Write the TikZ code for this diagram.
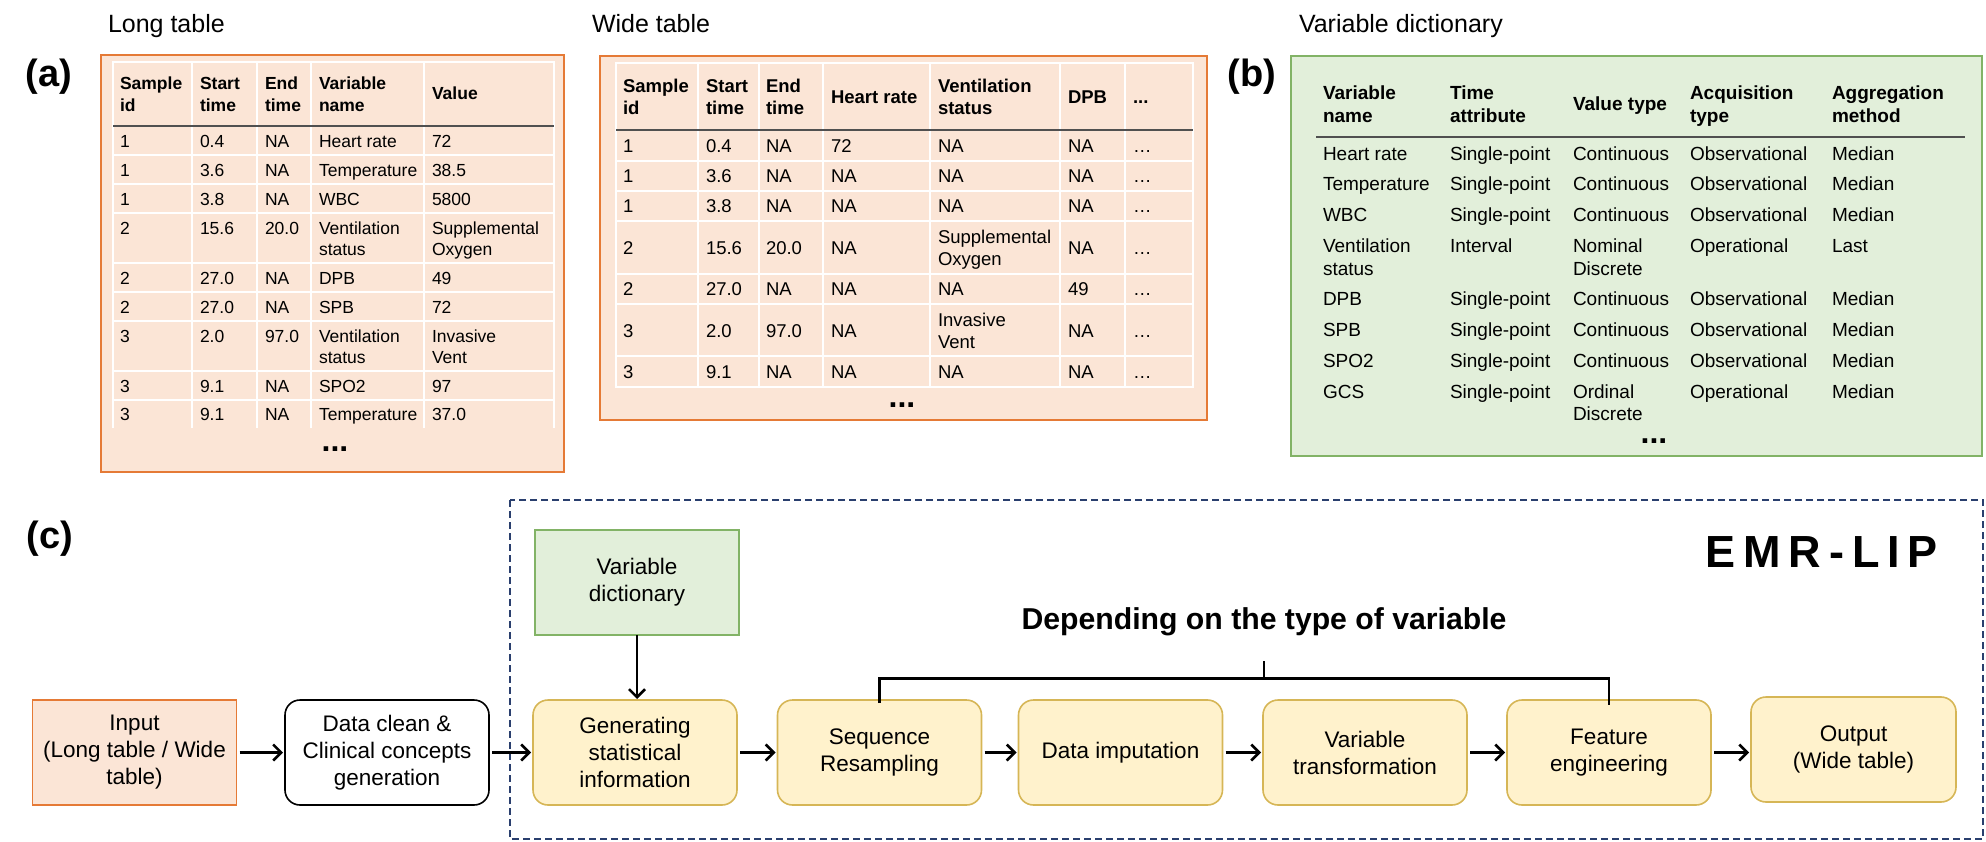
\documentclass[tikz,border=0pt]{standalone}
\usepackage{fontspec}
\setmainfont{Liberation Sans}
\usetikzlibrary{arrows.meta}
\definecolor{peach}{HTML}{FBE5D6}
\definecolor{orng}{HTML}{E57A36}
\definecolor{lgreen}{HTML}{E2EFDA}
\definecolor{dgreen}{HTML}{82B366}
\definecolor{lyellow}{HTML}{FFF2CC}
\definecolor{gold}{HTML}{D6B656}
\definecolor{navy}{HTML}{2A3F6E}
\definecolor{rulec}{HTML}{505050}
\begin{document}
\begin{tikzpicture}[x=1pt,y=-1pt,
  every node/.style={inner sep=0pt,outer sep=0pt},
  lt/.style={anchor=west,font=\fontsize{17.5}{21}\selectfont,text height=12.5pt,text depth=0pt},
  lth/.style={lt,font=\fontsize{17.5}{21}\selectfont\bfseries},
  wt/.style={anchor=west,font=\fontsize{18.5}{22}\selectfont,text height=13.2pt,text depth=0pt},
  wth/.style={wt,font=\fontsize{18.5}{22}\selectfont\bfseries},
  gt/.style={anchor=west,font=\fontsize{19}{22}\selectfont,text height=13.6pt,text depth=0pt},
  gth/.style={gt,font=\fontsize{19}{22}\selectfont\bfseries},
  bigdots/.style={anchor=base,font=\fontsize{32}{34}\selectfont\bfseries},
  title/.style={anchor=base west,font=\fontsize{25}{28}\selectfont},
  panel/.style={anchor=center,font=\fontsize{38}{40}\selectfont\bfseries},
  grid/.style={white,line width=2pt},
  hrule/.style={rulec,line width=2pt},
  flow/.style={minimum width=204pt,minimum height=105pt,align=center,
    font=\fontsize{22.5}{27}\selectfont,line width=1.6pt},
  ybox/.style={flow,fill=lyellow,draw=gold,rounded corners=15pt},
  arr/.style={line width=2.5pt,-{Straight Barb[length=8pt,width=16pt]},shorten >=2pt,shorten <=3pt},
  brk/.style={line width=2.7pt},
]
\useasboundingbox (0,0) rectangle (1986,842);

% ---------------- titles and panel labels
\node[title] (tlong) at (108,33) {Long table};
\node[title] (twide) at (592,33) {Wide table};
\node[title] (tdict) at (1299,33) {Variable dictionary};
\node[panel] (pa) at (49,77) {(a)};
\node[panel] (pb) at (1252,77) {(b)};
\node[panel] (pc) at (50,539) {(c)};

% ---------------- Long table
\draw[fill=peach,draw=orng,line width=2pt] (101,55) rectangle (564,472);
\draw[grid] (113,428) -- (113,62) -- (554,62) -- (554,428);
\foreach \x in {192,256.5,311,424} \draw[grid] (\x,62) -- (\x,428);
\foreach \y in {155,184,213,263,292,321,371,400} \draw[grid] (113,\y) -- (554,\y);
\draw[hrule] (113,126) -- (554,126);
\node[lth] (lh1a) at (120,83) {Sample};
\node[lth] (lh1b) at (120,105) {id};
\node[lth] (lh2a) at (200,83) {Start};
\node[lth] (lh2b) at (200,105) {time};
\node[lth] (lh3a) at (265,83) {End};
\node[lth] (lh3b) at (265,105) {time};
\node[lth] (lh4a) at (319,83) {Variable};
\node[lth] (lh4b) at (319,105) {name};
\node[lth] (lh5) at (432,93) {Value};
\foreach \y/\a/\b/\c/\d/\e [count=\i] in {141/1/0.4/NA/Heart rate/72,
  170/1/3.6/NA/Temperature/38.5, 199/1/3.8/NA/WBC/5800,
  228/2/15.6/20.0/Ventilation/Supplemental, 278/2/27.0/NA/DPB/49,
  307/2/27.0/NA/SPB/72, 336/3/2.0/97.0/Ventilation/Invasive,
  386/3/9.1/NA/SPO2/97, 414/3/9.1/NA/Temperature/37.0}{
  \node[lt] (l-\i-a) at (120,\y) {\a};
  \node[lt] (l-\i-b) at (200,\y) {\b};
  \node[lt] (l-\i-c) at (265,\y) {\c};
  \node[lt] (l-\i-d) at (319,\y) {\d};
  \node[lt] (l-\i-e) at (432,\y) {\e};
}
\node[lt] (l4d2) at (319,249) {status};
\node[lt] (l4e2) at (432,249) {Oxygen};
\node[lt] (l7d2) at (319,357) {status};
\node[lt] (l7e2) at (432,357) {Vent};
\node[bigdots] (ldots) at (335,451) {...};

% ---------------- Wide table
\draw[fill=peach,draw=orng,line width=2pt] (600,56) rectangle (1207,420);
\draw[grid] (616,63) rectangle (1193,387);
\foreach \x in {698,759,823,930,1060,1125} \draw[grid] (\x,63) -- (\x,387);
\foreach \y in {161,191,221,274,304,356} \draw[grid] (616,\y) -- (1193,\y);
\draw[hrule] (616,130) -- (1193,130);
\node[wth] (wh1a) at (623,86) {Sample};
\node[wth] (wh1b) at (623,108) {id};
\node[wth] (wh2a) at (706,86) {Start};
\node[wth] (wh2b) at (706,108) {time};
\node[wth] (wh3a) at (766,86) {End};
\node[wth] (wh3b) at (766,108) {time};
\node[wth] (wh4) at (831,97) {Heart rate};
\node[wth] (wh5a) at (938,86) {Ventilation};
\node[wth] (wh5b) at (938,108) {status};
\node[wth] (wh6) at (1068,97) {DPB};
\node[wth] (wh7) at (1133,97) {...};
\foreach \y/\a/\b/\c/\d/\e/\f [count=\i] in {146/1/0.4/NA/72/NA/NA,
  176/1/3.6/NA/NA/NA/NA, 206/1/3.8/NA/NA/NA/NA, 248/2/15.6/20.0/NA//NA,
  289/2/27.0/NA/NA/NA/49, 331/3/2.0/97.0/NA//NA, 372/3/9.1/NA/NA/NA/NA}{
  \node[wt] (w-\i-a) at (623,\y) {\a};
  \node[wt] (w-\i-b) at (706,\y) {\b};
  \node[wt] (w-\i-c) at (766,\y) {\c};
  \node[wt] (w-\i-d) at (831,\y) {\d};
  \node[wt] (w-\i-e) at (938,\y) {\e};
  \node[wt] (w-\i-f) at (1068,\y) {\f};
  \node[wt] (w-\i-g) at (1133,\y) {…};
}
\node[wt] (w4e1) at (938,237) {Supplemental};
\node[wt] (w4e2) at (938,259) {Oxygen};
\node[wt] (w6e1) at (938,320) {Invasive};
\node[wt] (w6e2) at (938,342) {Vent};
\node[bigdots] (wdots) at (902,407) {...};

% ---------------- Variable dictionary
\draw[fill=lgreen,draw=dgreen,line width=2pt] (1291,56) rectangle (1982,456);
\draw[hrule] (1316,137) -- (1965,137);
\node[gth] (gh1a) at (1323,93) {Variable};
\node[gth] (gh1b) at (1323,116) {name};
\node[gth] (gh2a) at (1450,93) {Time};
\node[gth] (gh2b) at (1450,116) {attribute};
\node[gth] (gh3) at (1573,104) {Value type};
\node[gth] (gh4a) at (1690,93) {Acquisition};
\node[gth] (gh4b) at (1690,116) {type};
\node[gth] (gh5a) at (1832,93) {Aggregation};
\node[gth] (gh5b) at (1832,116) {method};
\foreach \y/\a/\b/\c/\d/\e [count=\i] in {
  154/Heart rate/Single-point/Continuous/Observational/Median,
  184/Temperature/Single-point/Continuous/Observational/Median,
  215/WBC/Single-point/Continuous/Observational/Median,
  246/Ventilation/Interval/Nominal/Operational/Last,
  299/DPB/Single-point/Continuous/Observational/Median,
  330/SPB/Single-point/Continuous/Observational/Median,
  361/SPO2/Single-point/Continuous/Observational/Median,
  392/GCS/Single-point/Ordinal/Operational/Median}{
  \node[gt] (g-\i-a) at (1323,\y) {\a};
  \node[gt] (g-\i-b) at (1450,\y) {\b};
  \node[gt] (g-\i-c) at (1573,\y) {\c};
  \node[gt] (g-\i-d) at (1690,\y) {\d};
  \node[gt] (g-\i-e) at (1832,\y) {\e};
}
\node[gt] (g4a2) at (1323,269) {status};
\node[gt] (g4c2) at (1573,269) {Discrete};
\node[gt] (g8c2) at (1573,414) {Discrete};
\node[bigdots] (gdots) at (1654,443) {...};

% ---------------- (c) pipeline
\draw[navy,line width=2.5pt,dash pattern=on 7pt off 4pt] (510,500) rectangle (1983,839);
\node[anchor=east,font=\fontsize{45}{50}\selectfont\bfseries,
  text height=32.2pt,text depth=0pt] (emr) at (1938,551)
  {E\hspace{8pt}M\hspace{8pt}R\hspace{8pt}-\hspace{8pt}L\hspace{8pt}I\hspace{8pt}P};
\node[anchor=center,font=\fontsize{30.2}{33}\selectfont\bfseries,text height=21.6pt,text depth=0pt]
  (dep) at (1264,619) {Depending on the type of variable};

\node[flow,fill=lgreen,draw=dgreen] (vd) at (637,582.5) {Variable\\dictionary};
\node[flow,fill=peach,draw=orng] (inp) at (134.5,752.5) {Input\\(Long table / Wide\\table)};
\node[flow,fill=white,draw=black,rounded corners=15pt] (dc) at (387,752.5) {Data clean \&\\Clinical concepts\\generation};
\node[ybox] (gen) at (635,752.5) {Generating\\statistical\\information};
\node[ybox] (seq) at (879.5,752.5) {Sequence\\Resampling};
\node[ybox] (imp) at (1120.5,752.5) {Data imputation};
\node[ybox] (vt) at (1365,752.5) {Variable\\transformation};
\node[ybox] (fe) at (1609,752.5) {Feature\\engineering};
\node[ybox,minimum width=205pt] (out) at (1853.5,749.5) {Output\\(Wide table)};

\draw[arr] (inp) -- (dc);
\draw[arr] (dc) -- (gen);
\draw[arr] (gen) -- (seq);
\draw[arr] (seq) -- (imp);
\draw[arr] (imp) -- (vt);
\draw[arr] (vt) -- (fe);
\draw[arr] (fe.east) -- (fe.east -| out.west);
\draw[arr,shorten <=0pt,shorten >=1pt] (vd.south) -- (vd.south |- gen.north);

% bracket
\coordinate (bt) at (1264,661);
\coordinate (bm) at (1264,678.5);
\draw[brk] (bt) -- (bm);
\draw[brk] ([yshift=-3pt]seq.north) -- (seq.north |- bm) -- (fe.north |- bm) -- ([yshift=-5pt]fe.north);
\end{tikzpicture}
\end{document}
